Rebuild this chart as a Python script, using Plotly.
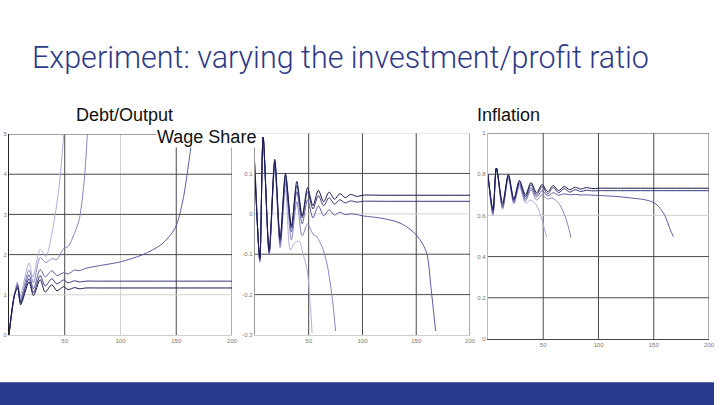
import plotly.graph_objects as go

# slide texts
title_text = "Experiment: varying the investment/profit ratio"
panel_labels = ["Debt/Output", "Wage Share", "Inflation"]

# ---- Debt/Output (5 runs, lightest = explodes first) ----
debt_t_a = [0, 5, 7.5, 9.5, 18, 21.5, 28, 33, 39, 45, 49.5]
debt_a = [0, 1.0, 1.32, 0.9, 1.79, 1.44, 2.13, 1.95, 2.6, 3.7, 5.1]
debt_t_b = [0, 5, 7.7, 10, 18, 22, 28, 33, 38.5, 43, 49, 53, 59, 63, 67.5, 70.5]
debt_b = [0, 1.0, 1.28, 0.85, 1.62, 1.3, 1.93, 1.8, 1.9, 1.88, 2.15, 2.2, 2.55, 2.87, 3.84, 5.1]
debt_t_c = [0, 5, 8, 10.5, 18, 22, 28, 32.5, 38.5, 43, 49, 53, 59, 63, 69, 80, 100, 120, 137, 149, 156, 161, 164, 165.5]
debt_c = [0, 1.0, 1.25, 0.82, 1.5, 1.15, 1.63, 1.45, 1.6, 1.48, 1.55, 1.52, 1.62, 1.6, 1.66, 1.72, 1.82, 2.0, 2.26, 2.66, 3.36, 4.25, 4.85, 5.1]
debt_t_d = [0, 5, 8, 10.5, 18, 22, 28, 32.5, 38.5, 43, 49, 53, 59, 63, 69, 80, 200]
debt_d = [0, 1.0, 1.2, 0.8, 1.4, 1.05, 1.48, 1.22, 1.4, 1.27, 1.37, 1.3, 1.35, 1.32, 1.34, 1.34, 1.34]
debt_t_e = [0, 5, 8, 10.5, 18, 22, 28, 32.5, 38.5, 43, 49, 53, 59, 63, 69, 80, 200]
debt_e = [0, 1.0, 1.17, 0.75, 1.32, 0.98, 1.38, 1.07, 1.25, 1.1, 1.2, 1.13, 1.18, 1.15, 1.17, 1.17, 1.17]

# ---- Wage Share ----
wage_t_a = [0, 4.6, 7.7, 13.3, 18.5, 23.5, 28.5, 33, 36.8, 41.4, 44.5, 48.5, 51.5, 53.2]
wage_a = [0.13, -0.12, 0.19, -0.1, 0.115, -0.085, 0.06, -0.09, -0.072, -0.068, -0.097, -0.137, -0.227, -0.295]
wage_t_b = [0, 4.6, 7.7, 13.3, 18.5, 23.5, 28.5, 34, 39, 44, 49, 54, 57, 63, 67.5, 72, 75]
wage_b = [0.125, -0.118, 0.19, -0.1, 0.12, -0.08, 0.075, -0.065, 0.03, -0.055, -0.025, -0.05, -0.055, -0.085, -0.13, -0.21, -0.29]
wage_t_c = [0, 4.6, 7.7, 13.3, 18.5, 23.5, 28.5, 34, 39, 44, 49, 54, 59, 64, 69, 74, 79, 84, 89, 95, 100,
            110, 120, 132, 140, 150, 156, 160, 164, 168]
wage_c = [0.12, -0.115, 0.19, -0.097, 0.125, -0.072, 0.085, -0.045, 0.055, -0.025, 0.035, -0.01, 0.02, -0.005, 0.01, -0.003, 0.004, -0.002, 0.0, -0.002, -0.005,
          -0.008, -0.012, -0.02, -0.03, -0.052, -0.075, -0.1, -0.19, -0.29]
wage_t_de = [0, 4.6, 7.7, 13.3, 18.5, 23.5, 28.5, 34, 39, 44, 49, 54, 59, 64, 69, 74, 79, 84, 89, 95, 100, 120, 200]
wage_d = [0.11, -0.112, 0.19, -0.093, 0.13, -0.065, 0.095, -0.035, 0.07, -0.01, 0.055, 0.012, 0.045, 0.02, 0.04, 0.024, 0.035, 0.027, 0.032, 0.029, 0.031, 0.031, 0.031]
wage_e = [0.10, -0.11, 0.19, -0.09, 0.135, -0.06, 0.10, -0.03, 0.08, -0.005, 0.065, 0.02, 0.058, 0.03, 0.054, 0.036, 0.05, 0.04, 0.048, 0.043, 0.046, 0.046, 0.046]

# ---- Inflation ----
infl_t_a = [0, 4.6, 7.7, 13.3, 18.5, 23.5, 28.5, 34, 39, 44.3, 48.8, 51.2, 53.3]
infl_a = [0.8, 0.6, 0.83, 0.63, 0.78, 0.655, 0.74, 0.66, 0.675, 0.645, 0.58, 0.532, 0.492]
infl_t_b = [0, 4.6, 7.7, 13.3, 18.5, 23.5, 28.5, 34, 39, 44, 49, 54, 58, 60.8, 65, 69.8, 73.4, 75.1]
infl_b = [0.8, 0.605, 0.83, 0.635, 0.785, 0.66, 0.75, 0.67, 0.725, 0.675, 0.70, 0.68, 0.685, 0.676, 0.652, 0.596, 0.532, 0.492]
infl_t_c = [0, 4.6, 7.7, 13.3, 18.5, 23.5, 28.5, 34, 39, 44, 49, 54, 59, 64, 69, 74, 79, 84, 89, 95, 100,
            110, 120, 130, 140, 147.6, 152, 156.6, 160, 162.6, 165, 167.7]
infl_c = [0.8, 0.61, 0.83, 0.64, 0.79, 0.665, 0.755, 0.68, 0.735, 0.69, 0.72, 0.695, 0.71, 0.698, 0.705, 0.7, 0.702, 0.699, 0.7, 0.698, 0.697,
          0.694, 0.69, 0.684, 0.678, 0.668, 0.655, 0.628, 0.6, 0.564, 0.53, 0.497]
infl_t_de = [0, 4.6, 7.7, 13.3, 18.5, 23.5, 28.5, 34, 39, 44, 49, 54, 59, 64, 69, 74, 79, 84, 89, 95, 100, 120, 200]
infl_d = [0.8, 0.62, 0.83, 0.65, 0.795, 0.675, 0.765, 0.69, 0.75, 0.70, 0.74, 0.705, 0.735, 0.71, 0.73, 0.713, 0.725, 0.716, 0.722, 0.719, 0.72, 0.72, 0.72]
infl_e = [0.8, 0.63, 0.83, 0.66, 0.8, 0.68, 0.77, 0.70, 0.76, 0.71, 0.75, 0.715, 0.745, 0.72, 0.74, 0.725, 0.737, 0.728, 0.735, 0.73, 0.732, 0.732, 0.732]

# gridlines: dark ones and light ones per panel
debt_dark_x, debt_light_x = [50, 150, 200], [100]
debt_dark_y, debt_light_y = [2, 3, 4, 5], [1]
wage_dark_x, wage_light_x = [50, 100, 150, 200], []
wage_dark_y, wage_light_y = [0.1, -0.1, -0.2], [0, 0.2]
infl_dark_x, infl_light_x = [50, 100, 150, 200], []
infl_dark_y, infl_light_y = [1, 0.8, 0.4, 0.2], [0.6]

run_colors = ["#aeaedb", "#8585c0", "#5c5ca0", "#38387e", "#1a1a4e"]

W, H = 720, 405
def px_x(p): return p / W
def px_y(p): return 1 - p / H

fig = go.Figure()

panels = [
    ("x", "y", [(debt_t_a, debt_a), (debt_t_b, debt_b), (debt_t_c, debt_c), (debt_t_d, debt_d), (debt_t_e, debt_e)]),
    ("x2", "y2", [(wage_t_a, wage_a), (wage_t_b, wage_b), (wage_t_c, wage_c), (wage_t_de, wage_d), (wage_t_de, wage_e)]),
    ("x3", "y3", [(infl_t_a, infl_a), (infl_t_b, infl_b), (infl_t_c, infl_c), (infl_t_de, infl_d), (infl_t_de, infl_e)]),
]
for xa, ya, runs in panels:
    for (t, v), c in zip(runs, run_colors):
        fig.add_trace(go.Scatter(x=t, y=v, mode="lines", xaxis=xa, yaxis=ya,
                                 line=dict(color=c, width=1, shape="spline", smoothing=0.8),
                                 showlegend=False, hoverinfo="skip"))

tickfont = dict(family="Liberation Sans", size=6, color="#777777")
ax_common = dict(showgrid=False, zeroline=False, tickfont=tickfont, ticks="",
                 showline=True, linewidth=1)

fig.update_layout(
    width=W, height=H, margin=dict(l=0, r=0, t=0, b=0),
    paper_bgcolor="white", plot_bgcolor="white",
    xaxis=dict(domain=[px_x(9), px_x(234)], range=[0, 200], tickvals=[50, 100, 150, 200],
               anchor="y", linecolor="#cfcfcf", **ax_common),
    yaxis=dict(domain=[px_y(337), px_y(133)], range=[0, 5], tickvals=[0, 1, 2, 3, 4, 5],
               anchor="x", linecolor="#222222", **ax_common),
    xaxis2=dict(domain=[px_x(257), px_x(474)], range=[0, 200], tickvals=[50, 100, 150, 200],
                anchor="y2", linecolor="#cfcfcf", **ax_common),
    yaxis2=dict(domain=[px_y(337), px_y(132)], range=[-0.3, 0.2],
                tickvals=[-0.3, -0.2, -0.1, 0, 0.1],
                ticktext=["-0.3", "-0.2", "-0.1", "0", "0.1"],
                anchor="x2", linecolor="#999999", **ax_common),
    xaxis3=dict(domain=[px_x(492), px_x(715)], range=[0, 200], tickvals=[50, 100, 150, 200],
                anchor="y3", linecolor="#444444", **ax_common),
    yaxis3=dict(domain=[px_y(341), px_y(132)], range=[0, 1],
                tickvals=[0, 0.2, 0.4, 0.6, 0.8, 1],
                ticktext=["0", "0.2", "0.4", "0.6", "0.8", "1"],
                anchor="x3", linecolor="#bbbbbb", **ax_common),
)

# gridlines as shapes under the traces
grid_sets = [("x", "y", debt_dark_x, debt_dark_y, debt_light_x, debt_light_y),
             ("x2", "y2", wage_dark_x, wage_dark_y, wage_light_x, wage_light_y),
             ("x3", "y3", infl_dark_x, infl_dark_y, infl_light_x, infl_light_y)]
for xa, ya, dx, dy, lx, ly in grid_sets:
    for vals, col in [(lx, "#d2d2d2"), (dx, "#4a4a4a")]:
        for v in vals:
            fig.add_shape(type="line", xref=xa, yref=ya + " domain", x0=v, x1=v, y0=0, y1=1,
                          line=dict(color=col, width=1), layer="below")
    for vals, col in [(ly, "#d2d2d2"), (dy, "#4a4a4a")]:
        for v in vals:
            fig.add_shape(type="line", xref=xa + " domain", yref=ya, x0=0, x1=1, y0=v, y1=v,
                          line=dict(color=col, width=1), layer="below")

# slide title
fig.add_annotation(text=title_text, xref="paper", yref="paper", x=px_x(30), y=px_y(55),
                   xanchor="left", yanchor="middle", showarrow=False,
                   font=dict(family="Roboto", size=30.5, color="#2e3a87", weight=300))

# panel labels
label_font = dict(family="Liberation Sans", size=18, color="#111111")
fig.add_annotation(text=panel_labels[0], xref="paper", yref="paper", x=px_x(75), y=px_y(114),
                   xanchor="left", yanchor="middle", showarrow=False, font=label_font)
fig.add_annotation(text=panel_labels[1], xref="paper", yref="paper", x=px_x(157), y=px_y(136),
                   xanchor="left", yanchor="middle", showarrow=False, font=label_font,
                   bgcolor="white", borderpad=0)
fig.add_annotation(text=panel_labels[2], xref="paper", yref="paper", x=px_x(479), y=px_y(114),
                   xanchor="left", yanchor="middle", showarrow=False, font=label_font)

# footer band
fig.add_shape(type="rect", xref="paper", yref="paper", x0=0, x1=1, y0=-0.05, y1=px_y(385),
              fillcolor="#283a8c", line=dict(width=0), layer="above")

fig.write_html("out.html", config={"displayModeBar": False},
               post_script="document.body.style.margin='0';")
